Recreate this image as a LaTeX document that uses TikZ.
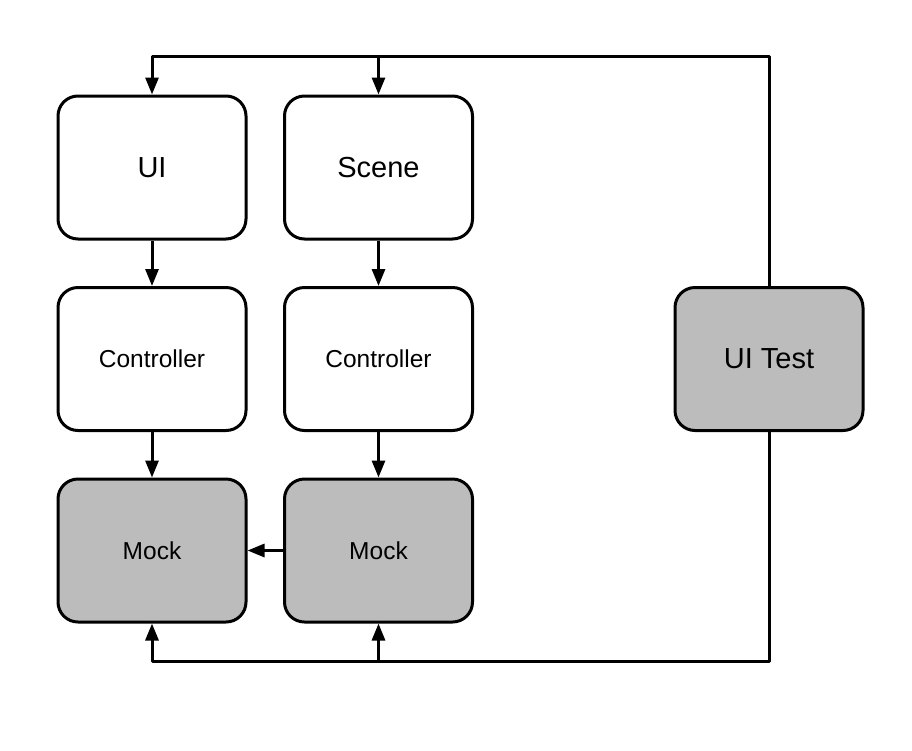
\documentclass[tikz,border=0pt]{standalone}
\usepackage{fontspec}
\setmainfont{Liberation Sans}
\usetikzlibrary{arrows.meta}
\definecolor{cbcbcbc}{RGB}{188,188,188}

\begin{document}
\begin{tikzpicture}[x=1pt, y=-1pt, line width=3pt, line join=round,
  block/.style={draw=black, rounded corners=20pt, minimum width=188pt,
    minimum height=143pt, inner sep=0pt, align=center},
  mock/.style={block, fill=cbcbcbc},
  bigtext/.style={font=\fontsize{29}{33}\selectfont},
  smalltext/.style={font=\fontsize{24.5}{28}\selectfont},
  link/.style={draw=black, -{Triangle[length=17pt, width=13pt]}}]
  \useasboundingbox (0, 0) rectangle (912, 750);



  \node[block, bigtext] (ui) at (152, 167.5){UI};



  \node[block, bigtext] (scene) at (378.5, 167.5){Scene};



  \node[block, smalltext] (uictrl) at (152, 359){Controller};



  \node[block, smalltext] (scenectrl) at (378.5, 359){Controller};



  \node[mock, smalltext] (uimock) at (152, 550.5){Mock};



  \node[mock, smalltext] (scenemock) at (378.5, 550.5){Mock};



  \node[mock, bigtext] (uitest) at (769, 359){UI Test};



  \coordinate (topright) at (769, 56);
  \coordinate (topmid) at (378.5, 56);
  \coordinate (botright) at (769, 661);
  \coordinate (botmid) at (378.5, 661);



  \path[link] (ui) -- (uictrl);



  \path[link] (scene) -- (scenectrl);



  \path[link] (uictrl) -- (uimock);



  \path[link] (scenectrl) -- (scenemock);



  \path[link] (scenemock) -- (uimock);



  \path[link] (uitest.north) -- (topright) -| (ui.north);



  \path[link] (topmid) -- (scene.north);



  \path[link] (uitest.south) -- (botright) -| (uimock.south);



  \path[link] (botmid) -- (scenemock.south);




\end{tikzpicture}
\end{document}
